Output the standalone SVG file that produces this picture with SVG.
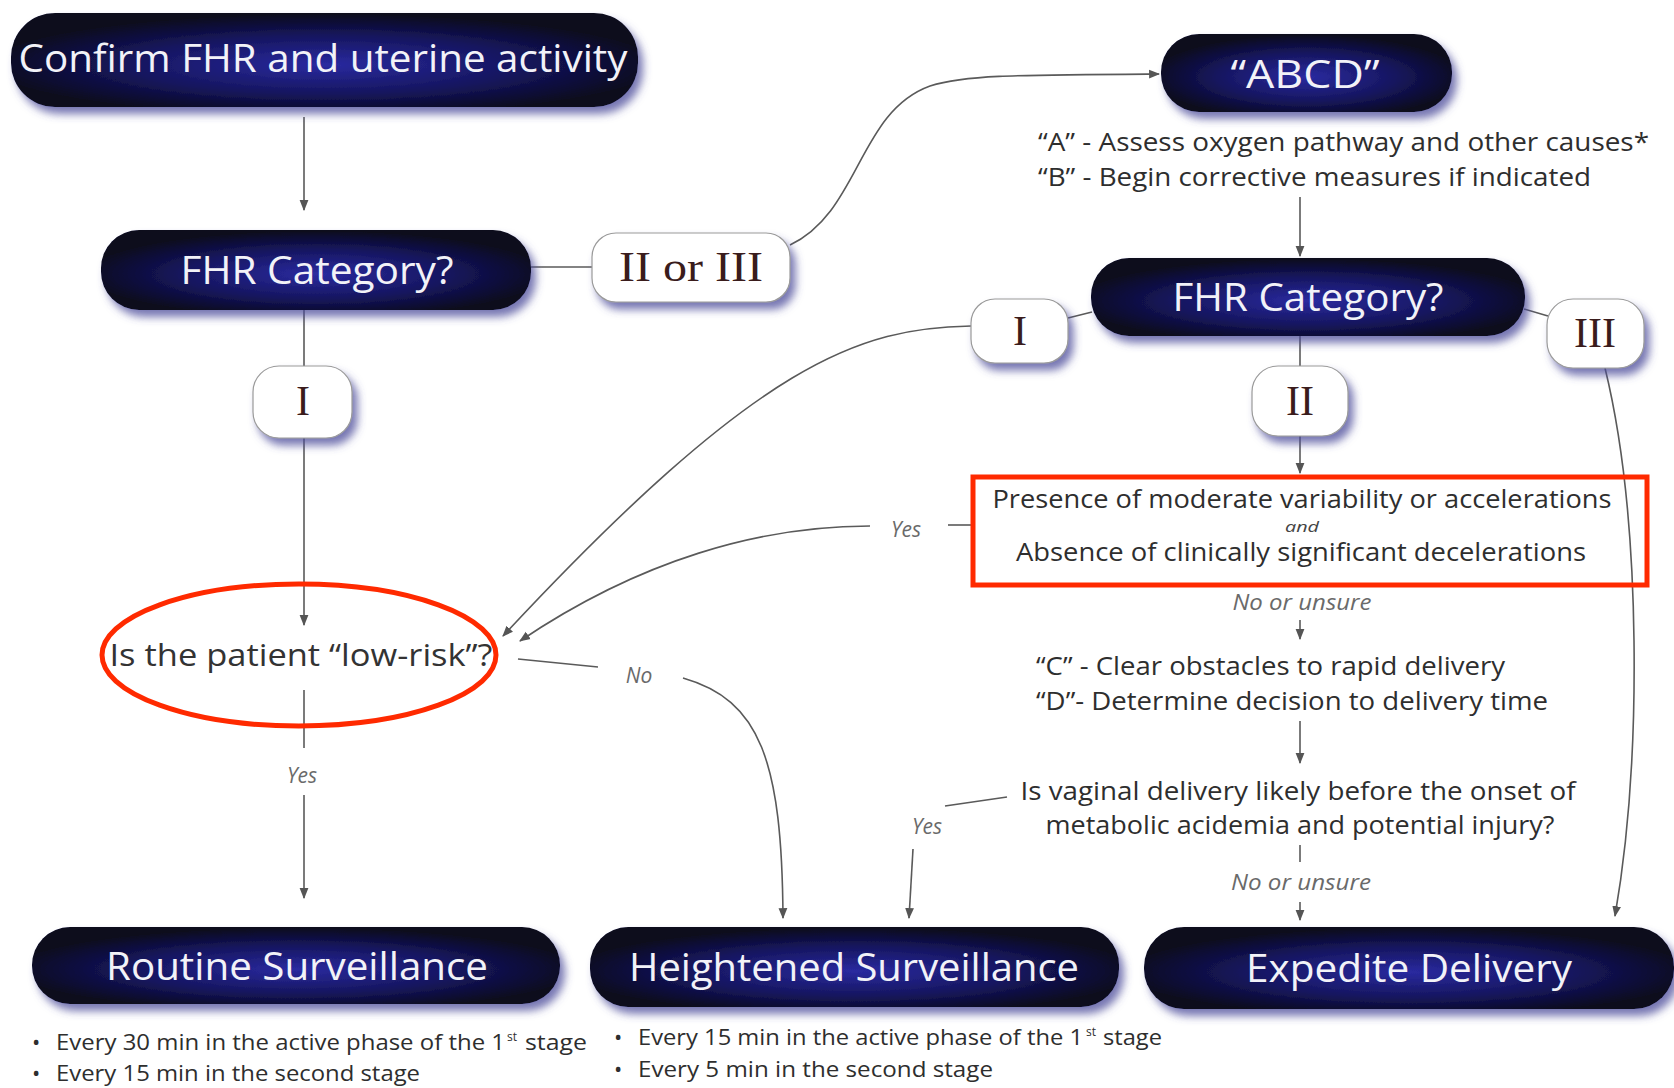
<svg xmlns="http://www.w3.org/2000/svg" width="1674" height="1088" viewBox="0 0 1674 1088">
<defs>
<radialGradient id="darkGrad" cx="50%" cy="55%" r="55%">
<stop offset="0%" stop-color="#2a2aa0"/>
<stop offset="55%" stop-color="#161660"/>
<stop offset="100%" stop-color="#07071a"/>
</radialGradient>
<filter id="shadow" x="-10%" y="-20%" width="125%" height="160%">
<feDropShadow dx="5" dy="7" stdDeviation="4" flood-color="#4a4a9a" flood-opacity="0.75"/>
</filter>
<marker id="arr" viewBox="0 0 10 10" refX="9" refY="5" markerWidth="11" markerHeight="11" markerUnits="userSpaceOnUse" orient="auto">
<path d="M0,1 L10,5 L0,9 Z" fill="#555"/>
</marker>
<style>
.dark{fill:url(#darkGrad);filter:url(#shadow);}
.lbl{fill:#fff;stroke:#9a9a9a;stroke-width:1.2;filter:url(#shadow);}
.title{font-family:"Open Sans","Lato",sans-serif;fill:#f2f2f8;font-size:38px;text-anchor:middle;}
.roman{font-family:"Liberation Serif","Times New Roman",serif;fill:#3a1c1c;font-size:42px;text-anchor:middle;}
.body{font-family:"Open Sans",sans-serif;fill:#2e2e2e;font-size:25px;}
.bul{font-family:"Open Sans",sans-serif;fill:#2e2e2e;font-size:22px;}
.sup{font-family:"Open Sans",sans-serif;fill:#2e2e2e;font-size:12px;}
.mid{text-anchor:middle;}
.ital{font-family:"Open Sans",sans-serif;fill:#6a6a6a;font-style:italic;font-size:21px;}
.conn{fill:none;stroke:#5a5a5a;stroke-width:1.6;}
.red{fill:none;stroke:#ff2a00;stroke-width:5;}
</style>
</defs>
<rect width="1674" height="1088" fill="#ffffff"/>

<g id="connectors">
<line class="conn" x1="304" y1="117" x2="304" y2="210" marker-end="url(#arr)"/>
<line class="conn" x1="531" y1="267" x2="592" y2="267"/>
<path class="conn" d="M790,245 C860,212 858,112 930,86 C965,75 1010,75 1159,74" marker-end="url(#arr)"/>
<line class="conn" x1="1300" y1="197" x2="1300" y2="256" marker-end="url(#arr)"/>
<line class="conn" x1="1068" y1="318" x2="1092" y2="312"/>
<line class="conn" x1="1524" y1="309" x2="1548" y2="316"/>
<line class="conn" x1="1300" y1="336" x2="1300" y2="366"/>
<line class="conn" x1="1300" y1="436" x2="1300" y2="473" marker-end="url(#arr)"/>
<path class="conn" d="M971,326 C860,328 760,360 503,636" marker-end="url(#arr)"/>
<line class="conn" x1="948" y1="525" x2="972" y2="525"/>
<path class="conn" d="M870,526 C760,526 640,560 520,641" marker-end="url(#arr)"/>
<line class="conn" x1="518" y1="659" x2="598" y2="667"/>
<path class="conn" d="M683,678 C760,700 782,760 783,918" marker-end="url(#arr)"/>
<line class="conn" x1="304" y1="310" x2="304" y2="366"/>
<line class="conn" x1="304" y1="438" x2="304" y2="625" marker-end="url(#arr)"/>
<line class="conn" x1="304" y1="690" x2="304" y2="748"/>
<line class="conn" x1="304" y1="795" x2="304" y2="898" marker-end="url(#arr)"/>
<line class="conn" x1="1300" y1="620" x2="1300" y2="639" marker-end="url(#arr)"/>
<line class="conn" x1="1300" y1="721" x2="1300" y2="763" marker-end="url(#arr)"/>
<line class="conn" x1="1300" y1="845" x2="1300" y2="862"/>
<line class="conn" x1="1300" y1="902" x2="1300" y2="920" marker-end="url(#arr)"/>
<line class="conn" x1="1007" y1="797" x2="945" y2="806"/>
<line class="conn" x1="913" y1="849" x2="909" y2="918" marker-end="url(#arr)"/>
<path class="conn" d="M1605,368 C1642,520 1642,760 1615,916" marker-end="url(#arr)"/>
</g>

<g id="confirm">
<rect class="dark" x="11" y="13" width="627" height="94" rx="44"/>
<text class="title" x="323" y="72" textLength="609" lengthAdjust="spacingAndGlyphs">Confirm FHR and uterine activity</text>
</g>

<g id="fhr-left">
<rect class="dark" x="101" y="230" width="430" height="80" rx="38"/>
<text class="title" x="317" y="284" textLength="273" lengthAdjust="spacingAndGlyphs">FHR Category?</text>
</g>

<g id="lbl-2or3">
<rect class="lbl" x="592" y="233" width="198" height="69" rx="24"/>
<text class="roman" x="691" y="281" textLength="144" lengthAdjust="spacingAndGlyphs">II or III</text>
</g>

<g id="lbl-1-left">
<rect class="lbl" x="253" y="366" width="99" height="72" rx="26"/>
<text class="roman" x="303" y="415">I</text>
</g>

<g id="abcd">
<rect class="dark" x="1161" y="34" width="291" height="78" rx="38"/>
<text class="title" x="1305" y="88" textLength="149" lengthAdjust="spacingAndGlyphs">“ABCD”</text>
</g>

<g id="ab-text">
<text class="body" x="1038" y="151" textLength="611" lengthAdjust="spacingAndGlyphs">“A” - Assess oxygen pathway and other causes*</text>
<text class="body" x="1038" y="186" textLength="553" lengthAdjust="spacingAndGlyphs">“B” - Begin corrective measures if indicated</text>
</g>

<g id="fhr-right">
<rect class="dark" x="1091" y="258" width="434" height="78" rx="38"/>
<text class="title" x="1308" y="311" textLength="271" lengthAdjust="spacingAndGlyphs">FHR Category?</text>
</g>

<g id="lbl-1-right">
<rect class="lbl" x="971" y="299" width="97" height="64" rx="24"/>
<text class="roman" x="1020" y="345">I</text>
</g>

<g id="lbl-3">
<rect class="lbl" x="1547" y="299" width="97" height="69" rx="26"/>
<text class="roman" x="1595" y="347">III</text>
</g>

<g id="lbl-2">
<rect class="lbl" x="1252" y="366" width="96" height="70" rx="26"/>
<text class="roman" x="1300" y="415">II</text>
</g>

<g id="criteria">
<rect class="red" x="973" y="477" width="674" height="108"/>
<text class="body mid" x="1302" y="508" textLength="619" lengthAdjust="spacingAndGlyphs">Presence of moderate variability or accelerations</text>
<text class="ital mid" x="1302" y="532" style="font-size:15px;fill:#444" textLength="34" lengthAdjust="spacingAndGlyphs">and</text>
<text class="body mid" x="1301" y="561" textLength="570" lengthAdjust="spacingAndGlyphs">Absence of clinically significant decelerations</text>
</g>

<g id="cd-text">
<text class="ital mid" x="1302" y="610" textLength="139" lengthAdjust="spacingAndGlyphs">No or unsure</text>
<text class="body" x="1036" y="675" textLength="469" lengthAdjust="spacingAndGlyphs">“C” - Clear obstacles to rapid delivery</text>
<text class="body" x="1036" y="710" textLength="512" lengthAdjust="spacingAndGlyphs">“D”- Determine decision to delivery time</text>
</g>

<g id="vaginal">
<text class="body mid" x="1298" y="800" textLength="555" lengthAdjust="spacingAndGlyphs">Is vaginal delivery likely  before the onset of</text>
<text class="body mid" x="1300" y="834" textLength="509" lengthAdjust="spacingAndGlyphs">metabolic acidemia and potential injury?</text>
<text class="ital mid" x="1301" y="890" textLength="140" lengthAdjust="spacingAndGlyphs">No or unsure</text>
<text class="ital mid" x="927" y="834">Yes</text>
</g>

<g id="lowrisk">
<ellipse class="red" cx="299" cy="655" rx="197" ry="71"/>
<text class="body mid" x="301" y="666" style="font-size:31px;fill:#333" textLength="383" lengthAdjust="spacingAndGlyphs">Is the patient “low-risk”?</text>
<text class="ital mid" x="906" y="537">Yes</text>
<text class="ital mid" x="639" y="683">No</text>
<text class="ital mid" x="302" y="783">Yes</text>
</g>

<g id="routine">
<rect class="dark" x="32" y="927" width="528" height="77" rx="38"/>
<text class="title" x="297" y="980" textLength="382" lengthAdjust="spacingAndGlyphs">Routine Surveillance</text>
<text class="bul" x="32" y="1050">•</text>
<text class="bul" x="56" y="1050" textLength="449" lengthAdjust="spacingAndGlyphs">Every 30 min in the active phase of the 1</text>
<text class="sup" x="507" y="1041">st</text>
<text class="bul" x="525" y="1050" textLength="62" lengthAdjust="spacingAndGlyphs">stage</text>
<text class="bul" x="32" y="1081">•</text>
<text class="bul" x="56" y="1081" textLength="364" lengthAdjust="spacingAndGlyphs">Every 15 min in the second stage</text>
</g>

<g id="heightened">
<rect class="dark" x="590" y="927" width="529" height="80" rx="38"/>
<text class="title" x="854" y="981" textLength="450" lengthAdjust="spacingAndGlyphs">Heightened Surveillance</text>
<text class="bul" x="614" y="1045">•</text>
<text class="bul" x="638" y="1045" textLength="445" lengthAdjust="spacingAndGlyphs">Every 15 min in the active phase of the 1</text>
<text class="sup" x="1086" y="1036">st</text>
<text class="bul" x="1103" y="1045" textLength="59" lengthAdjust="spacingAndGlyphs">stage</text>
<text class="bul" x="614" y="1077">•</text>
<text class="bul" x="638" y="1077" textLength="355" lengthAdjust="spacingAndGlyphs">Every 5 min in the second stage</text>
</g>

<g id="expedite">
<rect class="dark" x="1144" y="927" width="530" height="82" rx="40"/>
<text class="title" x="1409" y="982" textLength="326" lengthAdjust="spacingAndGlyphs">Expedite Delivery</text>
</g>
</svg>
